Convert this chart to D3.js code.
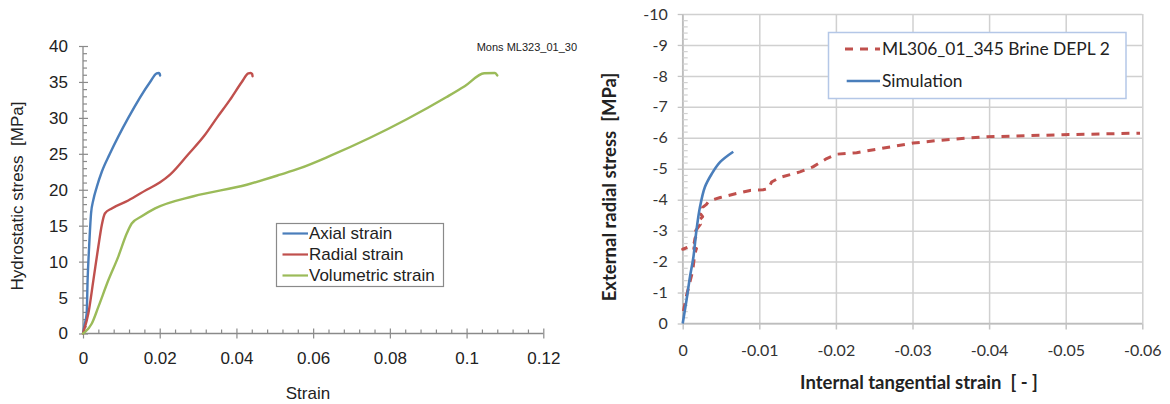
<!DOCTYPE html>
<html><head><meta charset="utf-8">
<script src="https://cdn.jsdelivr.net/npm/d3@7"></script>
<style>body{margin:0;background:#fff}svg{display:block}text{white-space:pre}</style>
</head><body>
<svg id="c" width="1170" height="404"></svg>
<script>
// ---------- Left chart data ----------
const leftXTicks = [0, 0.02, 0.04, 0.06, 0.08, 0.1, 0.12];
const leftXTickLabels = ["0", "0.02", "0.04", "0.06", "0.08", "0.1", "0.12"];
const leftYTicks = [0, 5, 10, 15, 20, 25, 30, 35, 40];
const leftSeriesNames = ["Axial strain", "Radial strain", "Volumetric strain"];

const axialStrain = [0, 0.0004, 0.00096, 0.0012, 0.0016, 0.0021, 0.0027, 0.0036, 0.0049, 0.007, 0.0118, 0.0175, 0.0192, 0.0197, 0.0200, 0.0201];
const axialStress = [0, 1.2, 2.8, 7.4, 12.1, 16.7, 18.6, 20.4, 22.5, 25, 30, 35, 36.2, 36.25, 36.15, 35.9];

const radialStrain = [0, 0.0003, 0.0014, 0.0027, 0.004, 0.0049, 0.0057, 0.0075, 0.0118, 0.0166, 0.02, 0.0227, 0.0274, 0.0316, 0.0349, 0.0383, 0.0414, 0.0431, 0.0437, 0.0441, 0.0442];
const radialStress = [0, 0.5, 2.8, 7.4, 12.1, 15.1, 16.7, 17.4, 18.5, 20.0, 21.0, 22.1, 24.9, 27.5, 30, 32.5, 35, 36.2, 36.25, 36.1, 35.8];

const volStrain = [0, 0.0005, 0.0023, 0.004, 0.0066, 0.0092, 0.0114, 0.0127, 0.0153, 0.0188, 0.0288, 0.0427, 0.0514, 0.0566, 0.0644, 0.0844, 0.0948, 0.0995, 0.1046, 0.1074, 0.1080];
const volStress = [0, 0.2, 1.4, 3.7, 7.4, 10.7, 13.9, 15.3, 16.3, 17.4, 19.1, 20.7, 22.1, 23.0, 24.7, 29.8, 32.9, 34.4, 36.2, 36.25, 35.9];

// ---------- Right chart data ----------
const rightXTicks = [0, -0.01, -0.02, -0.03, -0.04, -0.05, -0.06];
const rightXTickLabels = ["0", "-0.01", "-0.02", "-0.03", "-0.04", "-0.05", "-0.06"];
const rightYTicks = [0, -1, -2, -3, -4, -5, -6, -7, -8, -9, -10];
const rightYTickLabels = ["0", "-1", "-2", "-3", "-4", "-5", "-6", "-7", "-8", "-9", "-10"];
const rightSeriesNames = ["ML306_01_345 Brine DEPL 2", "Simulation"];

const expStrain = [-0.0001, -0.0005, -0.0009, -0.0013, -0.0015, -0.0017, -0.0018, -0.0009, 0.0000, -0.0010, -0.0015, -0.0016, -0.0020, -0.0017, -0.0023, -0.0020, -0.0026, -0.0023, -0.0028, -0.0026, -0.0031, -0.0033, -0.0036, -0.0049, -0.007, -0.0088, -0.0105, -0.0112, -0.0116, -0.0127, -0.0153, -0.017, -0.0188, -0.0201, -0.0227, -0.0258, -0.0301, -0.0336, -0.0393, -0.0496, -0.0597];
const expStress = [-0.4, -0.9, -1.3, -1.7, -2.1, -2.35, -2.42, -2.45, -2.4, -2.5, -2.6, -2.75, -2.9, -3.0, -3.2, -3.3, -3.45, -3.55, -3.65, -3.75, -3.85, -3.92, -3.97, -4.07, -4.2, -4.3, -4.32, -4.36, -4.57, -4.72, -4.9, -5.06, -5.33, -5.47, -5.52, -5.65, -5.83, -5.92, -6.03, -6.1, -6.15];

const simStrain = [0, -0.0005, -0.00095, -0.0014, -0.0018, -0.00226, -0.0029, -0.0038, -0.0049, -0.0066];
const simStress = [0, -0.76, -1.51, -2.15, -3.02, -3.77, -4.41, -4.84, -5.22, -5.55];

const svg = d3.select("#c");

// ================= LEFT CHART =================
const L = svg.append("g");
const xL = d3.scaleLinear().domain([0, 0.12]).range([83, 543.3]);
const yL = d3.scaleLinear().domain([0, 40]).range([333.5, 46]);
const axisCol = "#8a8a8a";
const fontL = "'Liberation Sans', Arial, sans-serif";

const gyL = L.append("g").attr("transform", "translate(83,0)")
  .call(d3.axisLeft(yL).tickValues(leftYTicks).tickSize(4).tickPadding(11).tickFormat(d3.format("d")));
gyL.selectAll(".tick line").attr("x1", 5).attr("x2", -4);
L.append("g").attr("transform", "translate(83,0)")
  .call(d3.axisRight(yL).tickValues(d3.range(0, 41).filter(v => v % 5 !== 0)).tickSize(4).tickFormat(""))
  .select(".domain").remove();

const gxL = L.append("g").attr("transform", "translate(0,333.5)")
  .call(d3.axisBottom(xL).tickValues(leftXTicks).tickSize(5).tickPadding(13).tickFormat((d, i) => leftXTickLabels[i]));
gxL.selectAll(".tick line").attr("y1", -5).attr("y2", 5);
L.append("g").attr("transform", "translate(0,333.5)")
  .call(d3.axisTop(xL).tickValues(d3.range(1, 30).filter(i => i % 5 !== 0).map(i => i * 0.004)).tickSize(4).tickFormat(""))
  .select(".domain").remove();

L.selectAll(".domain").attr("stroke", axisCol).attr("stroke-width", 1.3);
L.selectAll(".tick line").attr("stroke", axisCol).attr("stroke-width", 1.2);
L.selectAll(".tick text").attr("font-family", fontL).attr("font-size", 17).attr("fill", "#222");
gyL.select(".domain").attr("d", "M0,46V333.5");
gxL.select(".domain").attr("d", "M83,0H543.3");

const lineL = d3.line().x(d => xL(d[0])).y(d => yL(d[1])).curve(d3.curveMonotoneX);
const seriesL = [
  {s: axialStrain, v: axialStress, c: "#4a7ebb"},
  {s: radialStrain, v: radialStress, c: "#c0504d"},
  {s: volStrain, v: volStress, c: "#9bbb59"}
];
seriesL.forEach(o => {
  L.append("path").datum(o.s.map((x, i) => [x, o.v[i]]))
    .attr("d", lineL).attr("fill", "none").attr("stroke", o.c).attr("stroke-width", 2.4)
    .attr("stroke-linejoin", "round").attr("stroke-linecap", "round");
});

L.append("text").attr("x", 308).attr("y", 399).attr("text-anchor", "middle")
  .attr("font-family", fontL).attr("font-size", 17).attr("fill", "#222").text("Strain");
L.append("text").attr("transform", "translate(23,196) rotate(-90)").attr("text-anchor", "middle")
  .attr("font-family", fontL).attr("font-size", 17).attr("fill", "#222").text("Hydrostatic stress  [MPa]");
L.append("text").attr("x", 577).attr("y", 51).attr("text-anchor", "end")
  .attr("font-family", fontL).attr("font-size", 11).attr("fill", "#222").text("Mons ML323_01_30");

const legL = L.append("g");
legL.append("rect").attr("x", 276.5).attr("y", 223.5).attr("width", 167).attr("height", 63)
  .attr("fill", "#fff").attr("stroke", "#8a8a8a").attr("stroke-width", 1.2);
seriesL.forEach((o, i) => {
  const yy = 233.5 + i * 21;
  legL.append("line").attr("x1", 282.5).attr("x2", 308).attr("y1", yy).attr("y2", yy)
    .attr("stroke", o.c).attr("stroke-width", 2.2);
  legL.append("text").attr("x", 309).attr("y", yy).attr("dy", "0.35em")
    .attr("font-family", fontL).attr("font-size", 17).attr("fill", "#222").text(leftSeriesNames[i]);
});

// ================= RIGHT CHART =================
const R = svg.append("g");
const xR = d3.scaleLinear().domain([0, -0.06]).range([682.7, 1142.3]);
const yR = d3.scaleLinear().domain([0, -10]).range([323.5, 14]);
const fontR = "Lato, 'Open Sans', sans-serif";
const gridCol = "#d0d0d0";

R.append("g").attr("transform", "translate(682.7,0)")
  .call(d3.axisRight(yR).tickValues(rightYTicks).tickSize(459.6).tickFormat(""))
  .call(g => g.select(".domain").remove())
  .selectAll("line").attr("stroke", gridCol).attr("stroke-width", 1.5);
R.append("g").attr("transform", "translate(0,14)")
  .call(d3.axisBottom(xR).tickValues(rightXTicks).tickSize(309.5).tickFormat(""))
  .call(g => g.select(".domain").remove())
  .selectAll("line").attr("stroke", gridCol).attr("stroke-width", 1.5);

const gyR = R.append("g").attr("transform", "translate(682.7,0)")
  .call(d3.axisLeft(yR).tickValues(rightYTicks).tickSize(5).tickPadding(10).tickFormat((d, i) => rightYTickLabels[i]));
const gyRm = R.append("g").attr("transform", "translate(682.7,0)")
  .call(d3.axisRight(yR).tickValues(d3.range(1, 50).filter(i => i % 5 !== 0).map(i => -i * 0.2)).tickSize(5).tickFormat(""));
gyRm.select(".domain").remove();
gyRm.selectAll("line").attr("stroke", "#d0d0d0").attr("stroke-width", 1.2);
const gxR = R.append("g").attr("transform", "translate(0,323.5)")
  .call(d3.axisBottom(xR).tickValues(rightXTicks).tickSize(6).tickPadding(15).tickFormat((d, i) => rightXTickLabels[i]));

gyR.select(".domain").attr("d", "M0,14V323.5").attr("stroke", "#bdbdbd").attr("stroke-width", 1.5);
gxR.select(".domain").attr("d", "M682.7,0H1142.3").attr("stroke", "#bdbdbd").attr("stroke-width", 1.5);
gyR.selectAll(".tick line").attr("stroke", "#c4c4c4").attr("stroke-width", 1.3);
gxR.selectAll(".tick line").attr("stroke", "#c4c4c4").attr("stroke-width", 1.5);
R.selectAll(".tick text").attr("font-family", fontR).attr("font-size", 16).attr("fill", "#333");

const lineR = d3.line().x(d => xR(d[0])).y(d => yR(d[1]));
R.append("path").datum(expStrain.map((x, i) => [x, expStress[i]]))
  .attr("d", lineR).attr("fill", "none").attr("stroke", "#c0504d").attr("stroke-width", 3)
  .attr("stroke-dasharray", "8,7").attr("stroke-linejoin", "round");
R.append("path").datum(simStrain.map((x, i) => [x, simStress[i]]))
  .attr("d", lineR.curve(d3.curveCatmullRom)).attr("fill", "none").attr("stroke", "#4a7ebb").attr("stroke-width", 2.6)
  .attr("stroke-linejoin", "round");

R.append("text").attr("x", 919).attr("y", 389).attr("text-anchor", "middle")
  .attr("font-family", fontR).attr("font-weight", "bold").attr("font-size", 18.5).attr("fill", "#222")
  .text("Internal tangential strain  [ - ]");
R.append("text").attr("transform", "translate(616,187) rotate(-90)").attr("text-anchor", "middle")
  .attr("font-family", fontR).attr("font-weight", "bold").attr("font-size", 18.5).attr("fill", "#222")
  .text("External radial stress  [MPa]");

const legR = R.append("g");
legR.append("rect").attr("x", 828.5).attr("y", 32.5).attr("width", 297.5).attr("height", 66)
  .attr("fill", "#fff").attr("stroke", "#b4c7e7").attr("stroke-width", 1.5);
legR.append("line").attr("x1", 845).attr("x2", 880).attr("y1", 49).attr("y2", 49)
  .attr("stroke", "#c0504d").attr("stroke-width", 3).attr("stroke-dasharray", "8,7");
legR.append("line").attr("x1", 846.7).attr("x2", 880).attr("y1", 81).attr("y2", 81)
  .attr("stroke", "#4a7ebb").attr("stroke-width", 2.6);
[49, 81].forEach((yy, i) => {
  legR.append("text").attr("x", 882).attr("y", yy).attr("dy", "0.35em")
    .attr("font-family", fontR).attr("font-size", 17.4).attr("fill", "#222").text(rightSeriesNames[i]);
});
</script>
</body></html>
